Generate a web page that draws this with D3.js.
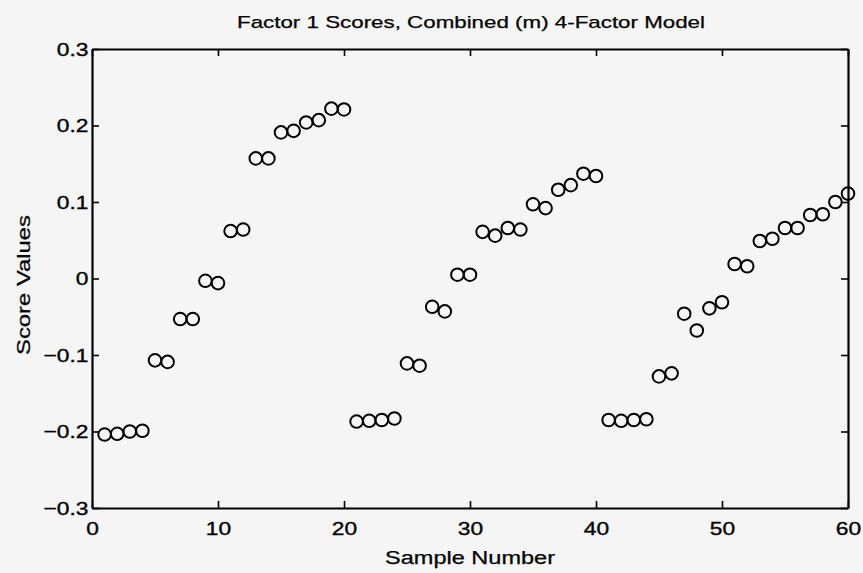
<!DOCTYPE html>
<html>
<head>
  <meta charset="utf-8">
  <title>Factor 1 Scores</title>
  <style>
    body { margin: 0; background: #f5f5f5; }
    text { font-family: "Liberation Sans", Arial, sans-serif; fill: #000; }
  </style>
</head>
<body>
  <script src="https://d3js.org/d3.v7.min.js"></script>
  <script>
    var width = 863;
    var height = 573;

    // sample numbers 1..60 and their factor 1 score values
    var samples = [1,2,3,4,5,6,7,8,9,10,11,12,13,14,15,16,17,18,19,20,
                   21,22,23,24,25,26,27,28,29,30,31,32,33,34,35,36,37,38,39,40,
                   41,42,43,44,45,46,47,48,49,50,51,52,53,54,55,56,57,58,59,60];
    var scores = [-0.204, -0.203, -0.200, -0.199, -0.107, -0.109, -0.053, -0.053, -0.003, -0.006,
                   0.062,  0.064,  0.157,  0.157,  0.191,  0.193,  0.204,  0.207,  0.222,  0.221,
                  -0.187, -0.186, -0.185, -0.183, -0.111, -0.114, -0.037, -0.043,  0.005,  0.005,
                   0.061,  0.056,  0.066,  0.064,  0.097,  0.092,  0.116,  0.122,  0.137,  0.134,
                  -0.185, -0.186, -0.185, -0.184, -0.128, -0.124, -0.046, -0.068, -0.039, -0.031,
                   0.019,  0.016,  0.049,  0.052,  0.066,  0.066,  0.083,  0.084,  0.100,  0.111];
    var xTicks = [0, 10, 20, 30, 40, 50, 60];
    var yTicks = [-0.3, -0.2, -0.1, 0, 0.1, 0.2, 0.3];

    var margin = { top: 49, right: 15, bottom: 65, left: 92 };

    var svg = d3.select("body").append("svg")
                .attr("width", width)
                .attr("height", height);

    svg.append("rect")
       .attr("width", width).attr("height", height)
       .attr("fill", "#f5f5f5");

    var x = d3.scaleLinear().domain([0, 60]).range([margin.left, width - margin.right]);
    var y = d3.scaleLinear().domain([-0.3, 0.3]).range([height - margin.bottom, margin.top]);

    var fmtY = function(d) { return d === 0 ? "0" : d3.format(".1f")(d); };

    // tick labels in the scan are a bit wide and heavy
    function styleLabels(g) {
      g.selectAll("text")
       .style("font-size", "19px")
       .attr("stroke", "#000").attr("stroke-width", 0.35)
       .attr("transform", "scale(1.2,1)");
    }

    // axes, ticks pointing inward (box style)
    svg.append("g")
       .attr("transform", "translate(0," + y(-0.3) + ")")
       .call(d3.axisBottom(x).tickValues(xTicks).tickSizeInner(-7).tickSizeOuter(0).tickPadding(14))
       .call(styleLabels);

    svg.append("g")
       .attr("transform", "translate(" + x(0) + ",0)")
       .call(d3.axisLeft(y).tickValues(yTicks).tickFormat(fmtY).tickSizeInner(-7).tickSizeOuter(0).tickPadding(3))
       .call(styleLabels);

    svg.append("g")
       .attr("transform", "translate(0," + y(0.3) + ")")
       .call(d3.axisTop(x).tickValues(xTicks).tickFormat("").tickSizeInner(-7).tickSizeOuter(0));

    svg.append("g")
       .attr("transform", "translate(" + x(60) + ",0)")
       .call(d3.axisRight(y).tickValues(yTicks).tickFormat("").tickSizeInner(-7).tickSizeOuter(0));

    svg.selectAll(".domain").attr("stroke", "#000").attr("stroke-width", 2.2);
    svg.selectAll(".tick line").attr("stroke", "#000").attr("stroke-width", 1.6);

    // markers
    svg.append("g").selectAll("circle")
       .data(samples)
       .enter().append("circle")
       .attr("cx", function(d) { return x(d); })
       .attr("cy", function(d, i) { return y(scores[i]); })
       .attr("r", 6.3)
       .attr("fill", "none")
       .attr("stroke", "#000")
       .attr("stroke-width", 2);

    // titles
    svg.append("text")
       .attr("x", 471).attr("y", 28)
       .attr("text-anchor", "middle")
       .attr("textLength", 468).attr("lengthAdjust", "spacingAndGlyphs")
       .attr("stroke", "#000").attr("stroke-width", 0.25)
       .style("font-size", "17px")
       .text("Factor 1 Scores, Combined (m) 4-Factor Model");

    svg.append("text")
       .attr("x", 470).attr("y", 564)
       .attr("text-anchor", "middle")
       .attr("textLength", 170).attr("lengthAdjust", "spacingAndGlyphs")
       .attr("stroke", "#000").attr("stroke-width", 0.25)
       .style("font-size", "18px")
       .text("Sample Number");

    svg.append("text")
       .attr("transform", "translate(30,285) rotate(-90)")
       .attr("text-anchor", "middle")
       .attr("textLength", 140).attr("lengthAdjust", "spacingAndGlyphs")
       .attr("stroke", "#000").attr("stroke-width", 0.25)
       .style("font-size", "18px")
       .text("Score Values");
  </script>
</body>
</html>
